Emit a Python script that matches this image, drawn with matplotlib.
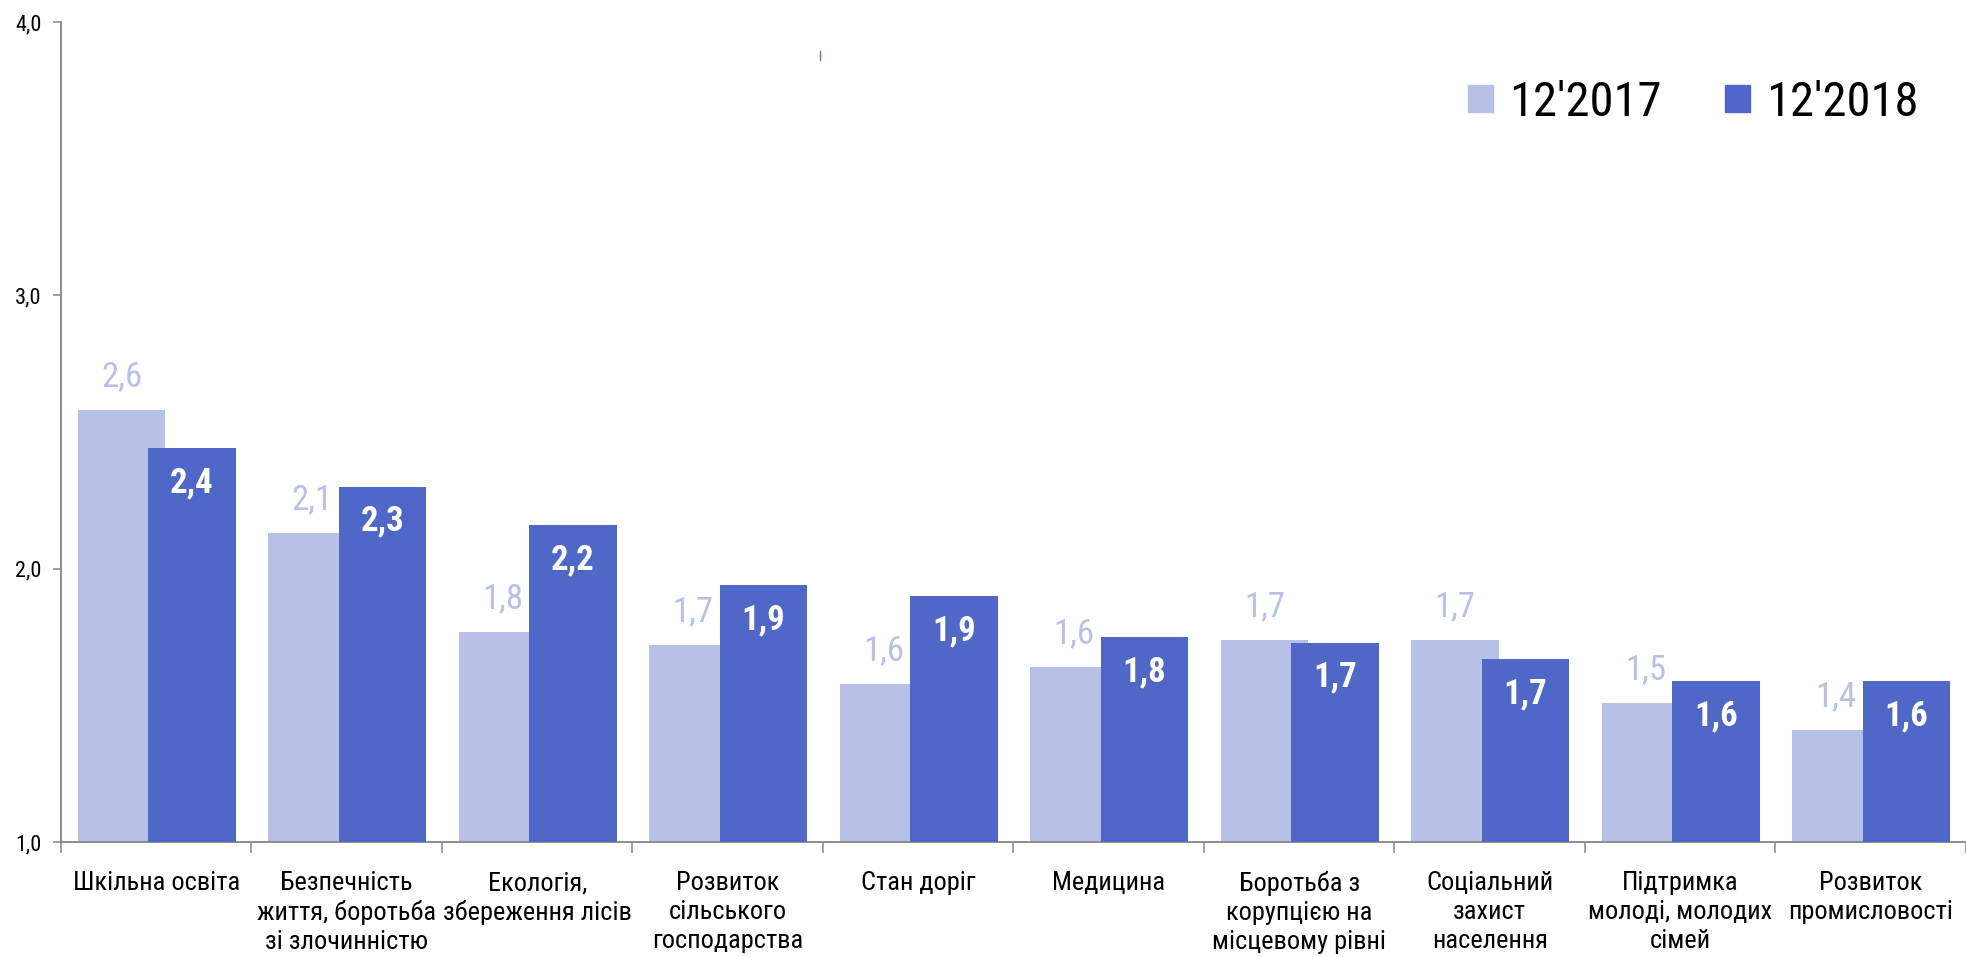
import matplotlib
matplotlib.use("Agg")
import matplotlib.pyplot as plt
from matplotlib.patches import Patch
from matplotlib.ticker import FuncFormatter, FixedLocator
import numpy as np

plt.rcParams['font.family'] = ['Roboto Condensed', 'Liberation Sans', 'DejaVu Sans']

# Data
categories = [
    "Шкільна освіта",
    "Безпечність\nжиття, боротьба\nзі злочинністю",
    "Екологія,\nзбереження лісів",
    "Розвиток\nсільського\nгосподарства",
    "Стан доріг",
    "Медицина",
    "Боротьба з\nкорупцією на\nмісцевому рівні",
    "Соціальний\nзахист\nнаселення",
    "Підтримка\nмолоді, молодих\nсімей",
    "Розвиток\nпромисловості",
]
values_2017 = [2.58, 2.13, 1.77, 1.72, 1.58, 1.64, 1.74, 1.74, 1.51, 1.41]
values_2018 = [2.44, 2.30, 2.16, 1.94, 1.90, 1.75, 1.73, 1.67, 1.59, 1.59]
series_names = ["12'2017", "12'2018"]

light = '#b7c1e7'
dark = '#4f68c8'
axis_gray = '#868686'

fig = plt.figure(figsize=(19.66, 9.57), dpi=100)
ax = fig.add_axes([0.031, 0.120, 0.969, 0.857])

x = np.arange(len(categories))
w = 0.46
ax.bar(x - 0.182, np.array(values_2017) - 1, w, bottom=1, color=light, zorder=2)
ax.bar(x + 0.187, np.array(values_2018) - 1, w, bottom=1, color=dark, zorder=3)

fmt = lambda v: f"{v:.1f}".replace('.', ',')

for xi, v in zip(x - 0.182, values_2017):
    ax.annotate(fmt(v), (xi, v), xytext=(0, 12), textcoords='offset points',
                ha='center', va='bottom', fontsize=25, color=light, zorder=5)
for xi, v in zip(x + 0.187, values_2018):
    ax.annotate(fmt(v), (xi, v), xytext=(0, -13), textcoords='offset points',
                ha='center', va='top', fontsize=25, color='white',
                fontweight='bold', zorder=5)

ax.set_xlim(-0.5, 9.5)
ax.set_ylim(1.0, 4.0)
ax.set_yticks([1.0, 2.0, 3.0, 4.0])
ax.yaxis.set_major_formatter(FuncFormatter(lambda v, p: fmt(v)))

ax.xaxis.set_major_locator(FixedLocator(x))
ax.set_xticklabels(categories, fontsize=19, linespacing=1.25, va='top')
ax.xaxis.set_minor_locator(FixedLocator(np.arange(-0.5, 10, 1.0)))
ax.tick_params(axis='x', which='major', length=0, pad=21)
ax.tick_params(axis='x', which='minor', length=8, width=1.1, color=axis_gray)
ax.tick_params(axis='y', length=6, width=1.1, color=axis_gray, labelsize=16, pad=8)

for s in ['top', 'right']:
    ax.spines[s].set_visible(False)
for s in ['left', 'bottom']:
    ax.spines[s].set_color(axis_gray)
    ax.spines[s].set_linewidth(1.3)

handles = [Patch(color=light), Patch(color=dark)]
fig.legend(handles, series_names, loc='upper right', bbox_to_anchor=(0.986, 0.937),
           ncol=2, frameon=False, fontsize=35, handlelength=0.5, handleheight=0.5,
           handletextpad=0.35, columnspacing=1.3, borderaxespad=0)

# small stray mark near top of the original
fig.add_artist(plt.Line2D([819.5 / 1966, 819.5 / 1966], [1 - 51 / 957, 1 - 60 / 957],
                          color='#6070c8', lw=1))

fig.savefig('out.png', dpi=100)
